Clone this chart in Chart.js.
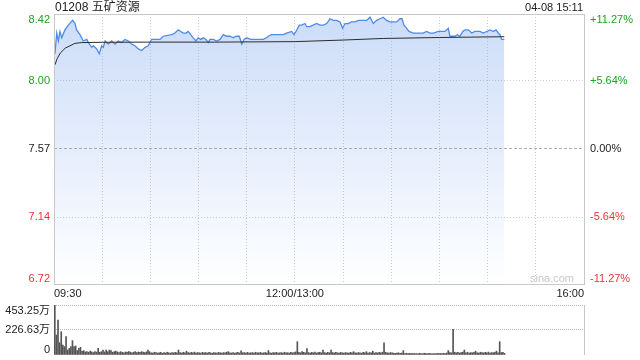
<!DOCTYPE html>
<html><head><meta charset="utf-8">
<script src="https://cdn.jsdelivr.net/npm/chart.js@4.4.1/dist/chart.umd.min.js"></script>
<style>
html,body{margin:0;padding:0;background:#fff;}
#wrap{position:relative;width:640px;height:360px;overflow:hidden;background:#fff;}
canvas{position:absolute;left:0;}
#c1{top:0;}
#c2{top:300px;}
</style></head><body>
<div id="wrap"><canvas id="c1" width="640" height="300"></canvas><canvas id="c2" width="640" height="60"></canvas></div>
<script>
// ---- data ----
const titleText = '01208 五矿资源';
const stampText = '04-08 15:11';
const watermark = 'sina.com';
const prevClose = 7.57;
const priceTicks = [8.42, 8.00, 7.57, 7.14, 6.72];
const pctTicks = ['+11.27%', '+5.64%', '0.00%', '-5.64%', '-11.27%'];
const timeTicks = [0, 30, 60, 90, 120, 150, 180, 210, 240, 270, 300, 330];
const timeTickLabels = ['09:30', '', '', '', '', '12:00/13:00', '', '', '', '', '', '16:00'];
const volTicks = [453.25, 226.63, 0];
const volTickLabels = ['453.25万', '226.63万', '0'];

// trading minutes since 09:30 (lunch removed)
const priceMinutes = [0.6,1.7,2.7,3.7,4.8,6.8,8.9,11.6,13.1,14.1,
16.2,18.2,20.4,21.4,23.5,24.5,26.6,28.2,29.7,30.7,
31.8,33.8,35.9,38.0,40.0,42.1,44.2,46.3,48.4,50.4,
52.5,54.6,56.7,58.7,60.2,60.8,66.0,68.0,73.3,75.3,
77.4,78.9,80.5,82.2,83.6,85.1,86.7,88.4,89.8,91.3,
93.0,94.6,96.1,97.1,99.2,101.3,103.4,105.4,107.5,109.6,
111.6,113.3,115.4,116.9,118.3,120.0,122.5,125.1,127.2,130.3,
132.4,133.4,135.5,137.6,138.7,140.7,142.8,144.9,148.0,149.4,
150.7,152.7,154.2,156.3,157.3,159.4,161.4,163.5,165.6,167.7,
169.8,171.8,173.9,176.0,178.1,179.7,181.2,183.2,185.3,187.4,
189.5,194.7,196.7,198.8,200.9,203.0,205.0,207.1,209.2,213.4,
215.4,216.7,217.9,219.6,221.0,223.7,229.9,232.0,234.1,236.2,
239.3,243.4,245.5,246.5,249.7,251.1,252.8,254.5,255.9,257.9,
260.1,262.1,265.2,267.3,269.4,271.5,273.5,275.2,276.6,277.7,
278.7,280.4];
const prices = [8.17,8.30,8.25,8.31,8.27,8.32,8.35,8.38,8.36,8.32,
8.29,8.25,8.26,8.24,8.21,8.22,8.20,8.17,8.22,8.21,
8.25,8.23,8.25,8.23,8.25,8.24,8.26,8.25,8.23,8.22,
8.20,8.19,8.21,8.22,8.25,8.26,8.26,8.28,8.29,8.30,
8.32,8.31,8.30,8.30,8.31,8.29,8.27,8.25,8.27,8.26,
8.27,8.26,8.24,8.26,8.26,8.25,8.26,8.29,8.28,8.28,
8.27,8.28,8.28,8.23,8.26,8.27,8.26,8.26,8.26,8.26,
8.27,8.28,8.29,8.29,8.29,8.29,8.29,8.30,8.31,8.29,
8.31,8.35,8.35,8.36,8.34,8.34,8.35,8.36,8.35,8.35,
8.36,8.39,8.38,8.38,8.37,8.33,8.36,8.36,8.37,8.37,
8.38,8.38,8.40,8.36,8.38,8.39,8.40,8.38,8.37,8.37,
8.39,8.39,8.35,8.33,8.31,8.30,8.30,8.31,8.30,8.30,
8.31,8.31,8.33,8.28,8.28,8.29,8.28,8.31,8.32,8.32,
8.30,8.31,8.31,8.30,8.31,8.32,8.31,8.32,8.30,8.29,
8.26,8.26];
const avgMinutes = [0.6, 2, 4, 7, 10, 13, 17, 30, 60, 100, 150, 180, 205, 240, 280.4];
const avgPrices = [8.10, 8.14, 8.175, 8.205, 8.22, 8.235, 8.24, 8.242, 8.243, 8.243, 8.246, 8.256, 8.266, 8.272, 8.277];

// volume per minute, in 万
const volumes = [
453.25,181,317,112,211,91,76,166,45,60,76,130,76,82,40,60,70,33,40,28,
30,25,35,28,22,30,26,60,25,30,45,28,45,30,45,40,25,30,35,28,
22,30,25,20,28,24,32,26,20,25,30,22,27,24,30,26,22,28,45,30,
20,18,25,22,18,20,24,16,22,18,25,20,17,22,19,24,20,45,22,18,
25,20,35,22,18,24,20,26,18,22,20,17,24,19,22,18,25,20,16,22,
20,18,24,20,17,22,19,25,30,20,18,22,17,20,24,18,38,20,22,18,
24,17,20,22,18,25,19,20,23,17,20,22,18,40,20,17,22,19,24,18,
20,22,17,25,19,21,18,24,20,22,28,121,25,20,30,24,20,58,22,18,
24,20,26,18,22,25,20,45,22,18,24,20,45,22,19,25,20,17,23,20,
18,22,20,17,24,19,30,20,18,22,20,17,24,20,30,18,22,20,35,18,
22,19,24,20,26,111,25,20,18,22,20,17,15,18,20,16,18,40,14,16,
12,15,13,16,12,14,11,15,13,12,16,14,12,15,13,11,14,12,15,13,
14,12,16,13,18,40,22,20,233,25,20,24,18,22,26,45,20,25,18,22,
20,24,35,20,18,25,22,19,24,20,26,18,22,20,24,35,20,121,22,25,
15];

// ---- styles ----
const FONT = '"Liberation Sans", Arial, "Noto Sans CJK SC", sans-serif';
const GREEN = '#1ea21e', RED = '#ee3333', TXT = '#222';

const frame1 = {
  id: 'frame1',
  afterDraw(chart) {
    const {ctx, chartArea: a, scales} = chart;
    ctx.save();
    ctx.strokeStyle = '#c8c8c8'; ctx.lineWidth = 1; ctx.setLineDash([]);
    ctx.strokeRect(a.left + 0.5, a.top + 0.5, a.right - a.left, a.bottom - a.top);
    ctx.font = '11px ' + FONT;
    priceTicks.forEach((v, i) => {
      const y = scales.y.getPixelForValue(v);
      ctx.textBaseline = i === 0 ? 'top' : (i === priceTicks.length - 1 ? 'bottom' : 'middle');
      ctx.fillStyle = v > prevClose ? GREEN : (v < prevClose ? RED : TXT);
      ctx.textAlign = 'right';
      ctx.fillText(v.toFixed(2), a.left - 4, y);
      ctx.textAlign = 'left';
      ctx.fillText(pctTicks[i], a.right + 6, y);
    });
    ctx.fillStyle = TXT;
    ctx.font = '12px ' + FONT;
    ctx.textBaseline = 'middle';
    ctx.textAlign = 'left';
    ctx.fillText(titleText, 55, 8);
    ctx.textAlign = 'right';
    ctx.font = '11px ' + FONT;
    ctx.fillText(stampText, a.right - 1, 8);
    ctx.fillStyle = '#c8c8c8';
    ctx.textAlign = 'center';
    ctx.fillText(watermark, 552, 279);
    ctx.restore();
  }
};

const frame2 = {
  id: 'frame2',
  afterDraw(chart) {
    const {ctx, chartArea: a, scales} = chart;
    ctx.save();
    ctx.strokeStyle = '#c8c8c8'; ctx.lineWidth = 1; ctx.setLineDash([]);
    ctx.beginPath();
    ctx.moveTo(a.right + 0.5, a.top); ctx.lineTo(a.right + 0.5, a.bottom);
    ctx.stroke();
    ctx.font = '11px ' + FONT;
    ctx.fillStyle = TXT;
    ctx.textAlign = 'right';
    volTicks.forEach((v, i) => {
      const y = scales.y.getPixelForValue(v);
      ctx.textBaseline = i === 0 ? 'top' : (i === volTicks.length - 1 ? 'bottom' : 'middle');
      ctx.fillText(volTickLabels[i], a.left - 4, y);
    });
    ctx.restore();
  }
};

const pricePts = priceMinutes.map((m, i) => ({x: m, y: prices[i]}));
const avgPts = avgMinutes.map((m, i) => ({x: m, y: avgPrices[i]}));

new Chart(document.getElementById('c1'), {
  type: 'line',
  data: {
    datasets: [
      { data: avgPts, borderColor: '#2b2b2b', borderWidth: 1, pointRadius: 0, fill: false, tension: 0, order: 0 },
      { data: pricePts, borderColor: '#4f8be8', borderWidth: 1.3, pointRadius: 0, tension: 0, order: 1,
        fill: 'start',
        backgroundColor: (c) => {
          const a = c.chart.chartArea;
          if (!a) return 'rgba(100,150,235,0.2)';
          const g = c.chart.ctx.createLinearGradient(0, a.top, 0, a.bottom);
          g.addColorStop(0, 'rgba(100,150,235,0.33)');
          g.addColorStop(1, 'rgba(100,150,235,0)');
          return g;
        } }
    ]
  },
  options: {
    responsive: false, devicePixelRatio: 1, animation: false, events: [],
    layout: { padding: { top: 14, right: 56, left: 0, bottom: 0 } },
    plugins: { legend: { display: false }, tooltip: { enabled: false } },
    scales: {
      x: {
        type: 'linear', min: 0, max: 330, offset: false,
        afterBuildTicks: (s) => { s.ticks = timeTicks.map(v => ({value: v})); },
        afterFit: (s) => { s.height = 16; },
        ticks: { autoSkip: false, maxRotation: 0, align: 'inner', padding: 3, color: TXT,
          font: { family: FONT, size: 11 },
          callback: (v) => { const k = timeTicks.indexOf(v); return k >= 0 ? timeTickLabels[k] : ''; } },
        grid: { color: '#cfcfcf', drawTicks: false, lineWidth: 1 },
        border: { display: false, dash: [1, 2] }
      },
      y: {
        type: 'linear', min: 6.72, max: 8.42,
        afterBuildTicks: (s) => { s.ticks = priceTicks.map(v => ({value: v})); },
        afterFit: (s) => { s.width = 54; },
        ticks: { display: false },
        grid: { drawTicks: false, color: (c) => (c.tick && c.tick.value === prevClose) ? '#b0b0b0' : '#cfcfcf' },
        border: { display: false, dash: (c) => (c.tick && c.tick.value === prevClose) ? [3, 2] : [1, 2] }
      }
    }
  },
  plugins: [frame1]
});

new Chart(document.getElementById('c2'), {
  type: 'bar',
  data: {
    datasets: [{
      data: volumes.map((v, i) => ({x: i + 0.5, y: v})),
      backgroundColor: '#555555', barThickness: 1, borderWidth: 0
    }]
  },
  options: {
    responsive: false, devicePixelRatio: 1, animation: false, events: [],
    layout: { padding: { top: 5, right: 56, left: 0, bottom: 5 } },
    plugins: { legend: { display: false }, tooltip: { enabled: false } },
    scales: {
      x: { type: 'linear', min: 0, max: 330, offset: false, display: false },
      y: {
        type: 'linear', min: 0, max: 453.25,
        afterBuildTicks: (s) => { s.ticks = volTicks.map(v => ({value: v})); },
        afterFit: (s) => { s.width = 54; },
        ticks: { display: false },
        grid: { drawTicks: false, color: (c) => (c.tick && c.tick.value === 0) ? 'rgba(0,0,0,0)' : '#bdbdbd' },
        border: { display: false, dash: [1, 1] }
      }
    }
  },
  plugins: [frame2]
});
</script>
</body></html>
